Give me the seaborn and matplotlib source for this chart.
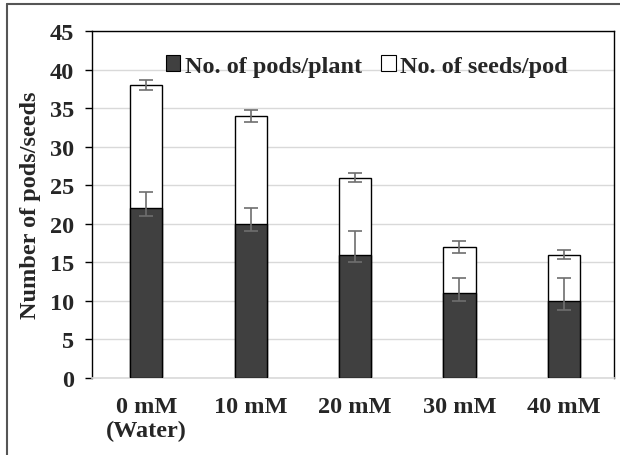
import matplotlib
matplotlib.use("Agg")
import matplotlib.pyplot as plt
import seaborn as sns
import pandas as pd
import numpy as np
from matplotlib.lines import Line2D
from matplotlib.patches import Patch

categories = ["0 mM\n(Water)", "10 mM", "20 mM", "30 mM", "40 mM"]
pods = [22, 20, 16, 11, 10]
seeds = [16, 14, 10, 6, 6]
pods_err_low = [1.0, 0.9, 1.0, 1.0, 1.2]
pods_err_high = [2.1, 2.0, 3.0, 2.0, 3.0]
seeds_err = [0.6, 0.8, 0.6, 0.8, 0.6]
yticks = [0, 5, 10, 15, 20, 25, 30, 35, 40, 45]

totals = [p + s for p, s in zip(pods, seeds)]
df = pd.DataFrame({"cat": categories, "pods": pods, "total": totals})

sns.set_style("white")
plt.rcParams["font.family"] = ["Liberation Serif", "DejaVu Serif"]
FS = 17.5

fig = plt.figure(figsize=(6.2, 4.56), dpi=100)
ax = fig.add_axes([92/620, 1-379/456, (614-92)/620, (379-32)/456])

ax.set_axisbelow(True)
ax.yaxis.grid(True, color="#d9d9d9", linewidth=1.0)

sns.barplot(data=df, x="cat", y="total", color="white", edgecolor="black",
            linewidth=1.0, width=0.31, errorbar=None, ax=ax, zorder=2)
sns.barplot(data=df, x="cat", y="pods", color="#404040", edgecolor="black",
            linewidth=1.0, width=0.31, errorbar=None, ax=ax, zorder=3)
n = len(categories)
for i, p in enumerate(ax.patches):
    p.set_facecolor("white" if i < n else "#404040")

x = np.arange(n)
ax.errorbar(x, totals, yerr=seeds_err, fmt="none", ecolor="#6e6e6e",
            elinewidth=1.2, capsize=5, capthick=1.2, zorder=4)
ax.errorbar(x, pods, yerr=[pods_err_low, pods_err_high], fmt="none",
            ecolor="#6e6e6e", elinewidth=1.2, capsize=5, capthick=1.2, zorder=4)

ax.set_xlim(-0.52, 4.48)
ax.set_ylim(0, 45)
ax.set_yticks(yticks)
ax.set_yticklabels([str(t) for t in yticks], fontsize=FS, fontweight="bold")
ax.set_xticks(x)
ax.set_xticklabels(categories, fontsize=FS, fontweight="bold", linespacing=1.2)
ax.tick_params(axis="y", direction="out", length=5, width=1, color="black", pad=8, left=True)
ax.tick_params(axis="x", length=0, pad=13)
ax.set_xlabel("")
ax.set_ylabel("Number of pods/seeds", fontsize=FS, fontweight="bold", labelpad=6)

for s in ["left", "top", "right"]:
    ax.spines[s].set_visible(True)
    ax.spines[s].set_color("black")
    ax.spines[s].set_linewidth(1.0)
ax.spines["bottom"].set_color("#d9d9d9")
ax.spines["bottom"].set_linewidth(1.2)

handles = [Patch(facecolor="#404040", edgecolor="black", linewidth=0.8),
           Patch(facecolor="white", edgecolor="black", linewidth=0.8)]
leg = ax.legend(handles, ["No. of pods/plant", "No. of seeds/pod"], ncol=2,
                loc="center", bbox_to_anchor=((367-92)/522, (379-67)/347), frameon=False,
                prop={"size": FS, "weight": "bold"}, handlelength=0.58,
                handleheight=0.58, handletextpad=0.2, columnspacing=0.8,
                borderpad=0, borderaxespad=0)

# outer figure border (left and top visible)
fig.add_artist(Line2D([7/620, 7/620], [0, 1-5/456], transform=fig.transFigure,
                      color="#555555", linewidth=1.5))
fig.add_artist(Line2D([7/620, 1], [1-5/456, 1-5/456], transform=fig.transFigure,
                      color="#555555", linewidth=1.5))

fig.savefig("out.png", dpi=100)
